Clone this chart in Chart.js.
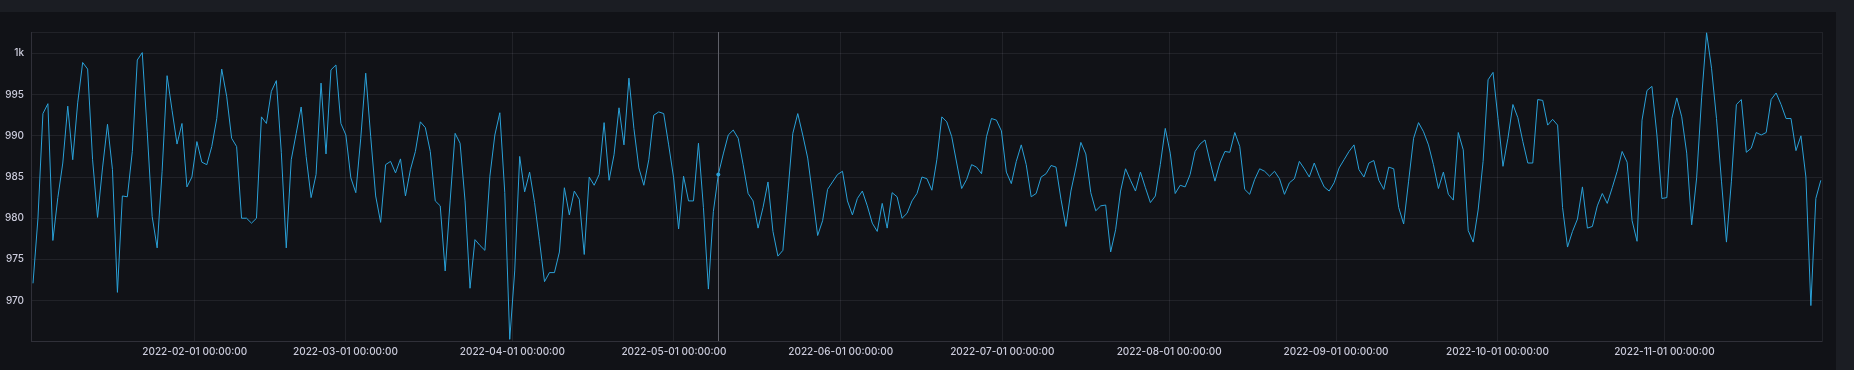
<!DOCTYPE html>
<html>
<head>
<meta charset="utf-8">
<script src="https://cdn.jsdelivr.net/npm/chart.js@4.4.1/dist/chart.umd.min.js"></script>
<style>
  html, body { margin: 0; padding: 0; background: #1b1d23; overflow: hidden; }
  #panel { position: absolute; left: 0; top: 12px; width: 1836px; height: 358px; background: #111217; }
  #wrap { position: absolute; left: 0; top: 0; width: 1854px; height: 370px; }
</style>
</head>
<body>
<div id="panel"></div>
<div id="wrap"><canvas id="myChart"></canvas></div>
<script>
// time axis: first sample, sample step and visible range
let firstSample = "2022-01-01T22:45:00Z";
let stepHours = 22.14;
let rangeStart = "2022-01-01T13:50:00Z";
let rangeEnd = "2022-11-30T06:30:00Z";
let hoverIndex = 138;

let monthTicks = ["2022-02-01 00:00:00", "2022-03-01 00:00:00", "2022-04-01 00:00:00", "2022-05-01 00:00:00",
  "2022-06-01 00:00:00", "2022-07-01 00:00:00", "2022-08-01 00:00:00", "2022-09-01 00:00:00",
  "2022-10-01 00:00:00", "2022-11-01 00:00:00"];

let yTicks = [970, 975, 980, 985, 990, 995, 1000];
let yTickLabels = ["970", "975", "980", "985", "990", "995", "1k"];
let yMin = 965.1;
let yMax = 1002.6;

let values = [
  972.1, 980.0, 992.7, 993.9, 977.3, 982.5, 986.7, 993.6, 987.1, 994.0,
  998.9, 998.1, 987.1, 980.1, 986.1, 991.4, 985.9, 971.0, 982.7, 982.6,
  988.1, 999.2, 1000.1, 990.5, 980.2, 976.4, 985.7, 997.3, 993.1, 989.0,
  991.5, 983.8, 985.0, 989.3, 986.8, 986.5, 988.7, 992.1, 998.1, 994.8,
  989.7, 988.7, 980.0, 980.0, 979.4, 980.0, 992.3, 991.5, 995.4, 996.7,
  988.0, 976.4, 987.1, 990.3, 993.5, 987.5, 982.5, 985.3, 996.4, 987.8,
  998.0, 998.6, 991.5, 990.1, 984.9, 983.1, 989.7, 997.6, 989.9, 982.7,
  979.5, 986.5, 986.9, 985.5, 987.2, 982.7, 985.9, 988.1, 991.7, 991.0,
  988.1, 982.1, 981.5, 973.6, 982.1, 990.3, 989.1, 982.1, 971.5, 977.4,
  976.7, 976.1, 985.1, 990.1, 992.8, 983.1, 965.3, 973.6, 987.5, 983.2,
  985.6, 981.9, 977.2, 972.3, 973.4, 973.4, 975.9, 983.7, 980.4, 983.3,
  982.3, 975.6, 985.0, 984.0, 985.3, 991.6, 984.6, 987.7, 993.4, 988.9,
  997.0, 990.9, 986.1, 984.0, 987.1, 992.5, 992.9, 992.7, 988.9, 984.9,
  978.7, 985.1, 982.1, 982.1, 989.1, 981.3, 971.4, 980.8, 985.3, 987.8,
  990.1, 990.7, 989.7, 986.5, 983.0, 982.1, 978.8, 981.3, 984.4, 978.4,
  975.4, 976.1, 983.1, 990.3, 992.7, 990.1, 987.3, 982.7, 977.9, 979.7,
  983.5, 984.4, 985.3, 985.7, 982.1, 980.4, 982.4, 983.3, 981.5, 979.4,
  978.4, 981.8, 978.8, 983.1, 982.6, 980.0, 980.6, 982.1, 983.0, 985.0,
  984.8, 983.4, 987.1, 992.3, 991.7, 989.9, 986.7, 983.6, 984.7, 986.5,
  986.2, 985.4, 989.9, 992.1, 991.9, 990.6, 985.6, 984.2, 986.9, 988.9,
  986.5, 982.6, 983.0, 985.0, 985.4, 986.4, 986.2, 982.3, 979.0, 983.3,
  986.1, 989.2, 987.8, 983.1, 980.9, 981.5, 981.6, 975.9, 978.6, 983.3,
  986.0, 984.6, 983.3, 985.6, 983.7, 981.9, 982.7, 986.5, 990.9, 987.9,
  983.0, 984.0, 983.8, 985.3, 988.1, 989.0, 989.5, 986.9, 984.5, 986.7,
  988.1, 988.0, 990.4, 988.7, 983.5, 982.9, 984.7, 986.0, 985.7, 985.1,
  985.7, 984.8, 982.9, 984.3, 984.8, 986.9, 986.0, 985.0, 986.7, 985.1,
  983.8, 983.3, 984.3, 986.1, 987.1, 988.1, 988.9, 985.9, 985.0, 986.7,
  987.0, 984.6, 983.5, 986.2, 986.0, 981.3, 979.3, 984.5, 989.7, 991.6,
  990.5, 988.9, 986.5, 983.6, 985.6, 982.9, 982.2, 990.4, 988.3, 978.5,
  977.1, 981.0, 986.9, 996.8, 997.7, 992.1, 986.3, 989.7, 993.8, 992.2,
  989.3, 986.7, 986.7, 994.4, 994.3, 991.3, 992.0, 991.3, 981.3, 976.5,
  978.4, 979.9, 983.8, 978.8, 979.0, 981.5, 983.0, 981.8, 983.7, 985.7,
  988.1, 986.8, 979.7, 977.2, 991.9, 995.5, 996.0, 990.1, 982.4, 982.5,
  992.1, 994.6, 992.3, 987.9, 979.2, 984.9, 994.6, 1002.5, 998.2, 992.1,
  984.5, 977.1, 984.5, 993.8, 994.4, 988.0, 988.5, 990.4, 990.1, 990.4,
  994.4, 995.2, 993.8, 992.1, 992.1, 988.2, 990.0, 985.0, 969.4, 982.4,
  984.6
];

function toMs(s) {
  return Date.parse(s.replace(" ", "T") + (s.endsWith("Z") ? "" : "Z"));
}

const gridColor = "rgba(204, 204, 220, 0.09)";
const textColor = "#ccccdc";
const lineColor = "#2aa1d8";

// vertical hover line like the tooltip crosshair
const crosshair = {
  id: "crosshair",
  beforeDatasetsDraw(chart) {
    const meta = chart.getDatasetMeta(0);
    const pt = meta.data[hoverIndex];
    if (!pt) return;
    const ctx = chart.ctx;
    const area = chart.chartArea;
    const x = Math.round(pt.x) + 0.5;
    ctx.save();
    ctx.strokeStyle = "#5f6068";
    ctx.lineWidth = 1;
    ctx.beginPath();
    ctx.moveTo(x, area.top);
    ctx.lineTo(x, area.bottom);
    ctx.stroke();
    ctx.restore();
  }
};

function createChart() {
  const t0 = toMs(firstSample);
  const step = stepHours * 3600 * 1000;
  const points = values.map((v, i) => ({ x: t0 + i * step, y: v }));
  const xMin = toMs(rangeStart);
  const xMax = toMs(rangeEnd);
  const monthMs = monthTicks.map(toMs);

  const ctx = document.getElementById("myChart").getContext("2d");
  new Chart(ctx, {
    type: "line",
    data: {
      datasets: [{
        data: points,
        borderColor: lineColor,
        backgroundColor: lineColor,
        borderWidth: 1,
        tension: 0,
        fill: false,
        pointRadius: (c) => c.dataIndex === hoverIndex ? 2 : 0,
        pointBorderWidth: 0
      }]
    },
    options: {
      responsive: true,
      maintainAspectRatio: false,
      animation: false,
      events: [],
      layout: { padding: { top: 32, right: 32, left: 0, bottom: 0 } },
      plugins: { legend: { display: false }, tooltip: { enabled: false } },
      scales: {
        x: {
          type: "linear",
          min: xMin,
          max: xMax,
          afterBuildTicks: (scale) => {
            scale.ticks = [xMin].concat(monthMs, [xMax]).map(v => ({ value: v }));
          },
          afterFit: (scale) => { scale.height = 29; },
          ticks: {
            autoSkip: false,
            maxRotation: 0,
            padding: 5,
            color: textColor,
            font: { family: "Inter", size: 10, weight: 500 },
            callback: (v) => {
              const k = monthMs.indexOf(v);
              return k >= 0 ? monthTicks[k] : "";
            }
          },
          grid: { color: gridColor, drawTicks: false },
          border: { color: gridColor }
        },
        y: {
          min: yMin,
          max: yMax,
          afterBuildTicks: (scale) => {
            scale.ticks = [yMin].concat(yTicks, [yMax]).map(v => ({ value: v }));
          },
          afterFit: (scale) => { scale.width = 31; },
          ticks: {
            padding: 7,
            color: textColor,
            font: { family: "Inter", size: 10, weight: 500 },
            callback: (v) => {
              const k = yTicks.indexOf(v);
              return k >= 0 ? yTickLabels[k] : "";
            }
          },
          grid: { color: gridColor, drawTicks: false },
          border: { color: gridColor }
        }
      }
    },
    plugins: [crosshair]
  });
}

window.onload = createChart;
</script>
</body>
</html>
